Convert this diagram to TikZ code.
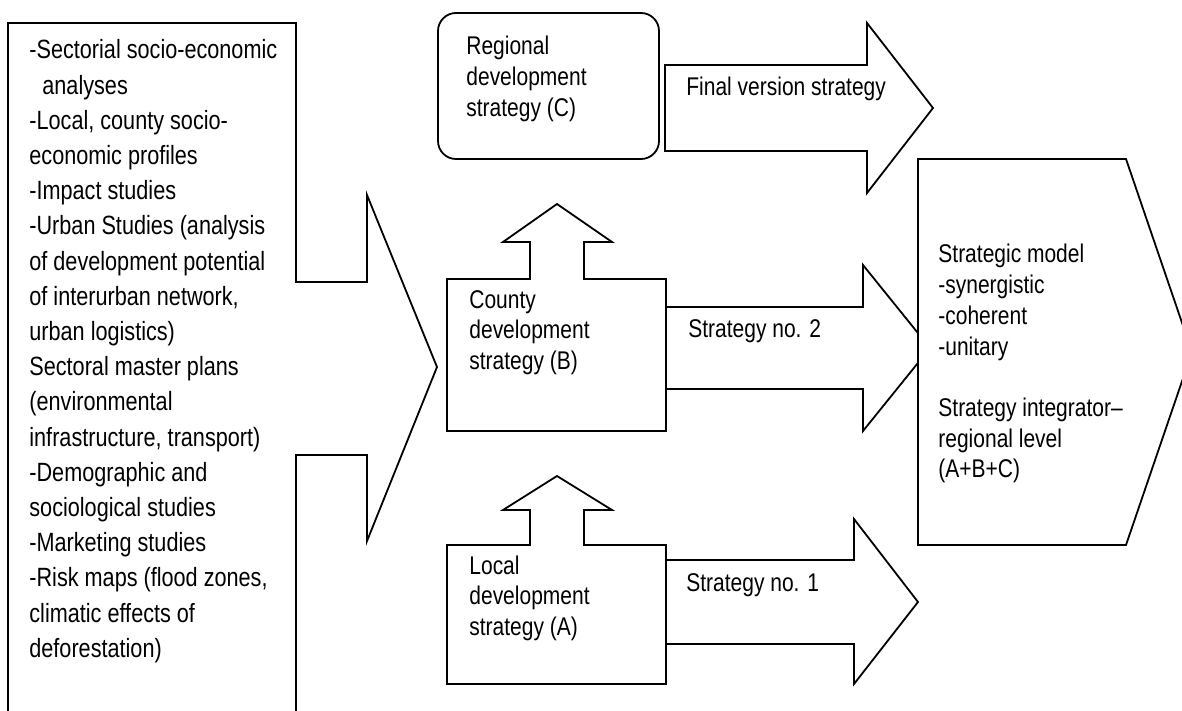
\documentclass[tikz,border=0pt]{standalone}
\usepackage{fontspec}
\setmainfont{Liberation Sans}[FakeStretch=0.82]
\newcommand\vlines[2]{\vtop{\baselineskip=#1\relax\lineskiplimit=-20pt\halign{##\hfil\cr#2\crcr}}}
\begin{document}
\begin{tikzpicture}[x=0.5pt,y=-0.5pt,line join=miter,
  shp/.style={draw=black,fill=white,line width=0.9pt},
  txt/.style={anchor=base west,inner sep=0pt,font=\fontsize{12.8pt}{15.4pt}\selectfont},
  bigtxt/.style={anchor=base west,inner sep=0pt,font=\fontsize{13.2pt}{17.6pt}\selectfont}]
\useasboundingbox (0,0) rectangle (1182,711);
\clip (0,0) rectangle (1182,711);

% left source box with block arrow
\draw[shp] (8,800) -- (8,23) -- (296,23) -- (296,282) -- (367,282) -- (367,195)
  -- (437,367) -- (367,541) -- (367,455) -- (296,455) -- (296,800);
\node[bigtxt] (src) at (29,59) {\vlines{17.6pt}{%
-Sectorial socio-economic\cr
\hskip6.5pt analyses\cr
-Local, county socio-\cr
economic profiles\cr
-Impact studies\cr
-Urban Studies (analysis\cr
of development potential\cr
of interurban network,\cr
urban logistics)\cr
Sectoral master plans\cr
(environmental\cr
infrastructure, transport)\cr
-Demographic and\cr
sociological studies\cr
-Marketing studies\cr
-Risk maps (flood zones,\cr
climatic effects of\cr
deforestation)}};

% regional box (C)
\draw[shp,rounded corners=9pt] (438,13) rectangle (659,159);
\node[txt] (regC) at (466,55) {\vlines{15.4pt}{Regional\cr development\cr strategy (C)}};

% final version arrow
\draw[shp] (665,65) -- (867,65) -- (867,23) -- (933,108) -- (867,193) -- (867,151) -- (665,151) -- cycle;
\node[txt] (fin) at (686,96) {Final version strategy};

% strategy no. 2 arrow
\draw[shp] (666,307) -- (863,307) -- (863,265) -- (930,348) -- (863,431) -- (863,389) -- (666,389) -- cycle;
\node[txt] (s2) at (688,337) {Strategy no. 2};

% strategy no. 1 arrow
\draw[shp] (666,560) -- (854,560) -- (854,519) -- (918,602) -- (854,684) -- (854,644) -- (666,644) -- cycle;
\node[txt] (s1) at (686,591) {Strategy no. 1};

% county box (B) with up arrow
\draw[shp] (447,279) -- (530,279) -- (530,242) -- (503,242) -- (557,204) -- (612,242)
  -- (584,242) -- (584,279) -- (666,279) -- (666,431) -- (447,431) -- cycle;
\node[txt] (cntB) at (469,308) {\vlines{15.4pt}{County\cr development\cr strategy (B)}};

% local box (A) with up arrow
\draw[shp] (447,545) -- (530,545) -- (530,510) -- (503,510) -- (557,476) -- (612,510)
  -- (584,510) -- (584,545) -- (666,545) -- (666,684) -- (447,684) -- cycle;
\node[txt] (locA) at (469,574) {\vlines{15.4pt}{Local\cr development\cr strategy (A)}};

% strategic model
\draw[shp] (918,159) -- (1126,159) -- (1192,352) -- (1126,545) -- (918,545) -- cycle;
\node[txt] (model) at (938,263) {\vlines{15.35pt}{Strategic model\cr -synergistic\cr -coherent\cr -unitary\cr \cr Strategy integrator–\cr regional level\cr (A+B+C)}};
\end{tikzpicture}
\end{document}
